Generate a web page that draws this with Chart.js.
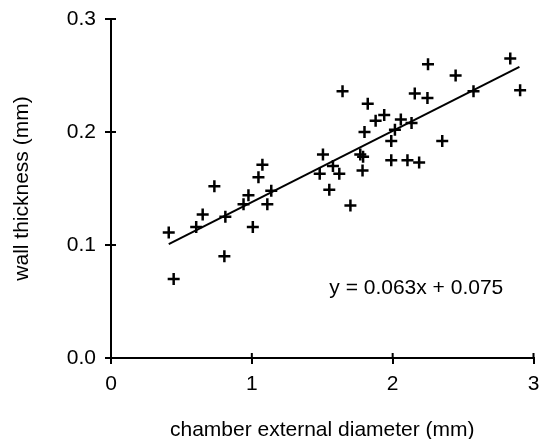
<!DOCTYPE html>
<html>
<head>
<meta charset="utf-8">
<script src="https://cdn.jsdelivr.net/npm/chart.js@4"></script>
<style>
  html, body { margin: 0; padding: 0; background: #fff; }
</style>
</head>
<body>
<canvas id="myChartScatter" width="542" height="439"></canvas>
<script>
// chamber external diameter (mm)
const diameter = [0.41, 0.445, 0.605, 0.651, 0.734, 0.812, 0.805, 0.941, 0.976, 1.007,
  1.047, 1.075, 1.11, 1.138, 1.482, 1.505, 1.55, 1.576, 1.621, 1.644,
  1.70, 1.77, 1.79, 1.786, 1.80, 1.823, 1.879, 1.94, 1.99, 1.99,
  2.016, 2.058, 2.105, 2.134, 2.157, 2.188, 2.247, 2.251, 2.352, 2.447,
  2.574, 2.835, 2.905];
// wall thickness (mm)
const thickness = [0.111, 0.070, 0.116, 0.127, 0.152, 0.125, 0.090, 0.136, 0.144, 0.116,
  0.160, 0.171, 0.136, 0.148, 0.163, 0.180, 0.149, 0.170, 0.163, 0.236,
  0.135, 0.180, 0.178, 0.166, 0.200, 0.225, 0.210, 0.215, 0.192, 0.175,
  0.202, 0.211, 0.175, 0.208, 0.234, 0.173, 0.230, 0.260, 0.192, 0.250,
  0.236, 0.265, 0.237];

// trend line from the equation printed on the chart
const slope = 0.063;
const intercept = 0.075;
const fitFrom = 0.41;
const fitTo = 2.9;

const xTicks = [0, 1, 2, 3];
const yTicks = [0.0, 0.1, 0.2, 0.3];

const points = diameter.map((d, i) => ({ x: d, y: thickness[i] }));
const fitLine = [fitFrom, fitTo].map(d => ({ x: d, y: slope * d + intercept }));
const equation = 'y = ' + slope + 'x + ' + intercept;

Chart.defaults.font.family = '"Liberation Sans", Arial, sans-serif';
Chart.defaults.font.size = 21;
Chart.defaults.color = '#000';

// ticks that cross the axes + the equation label
const extras = {
  id: 'extras',
  afterDraw(chart) {
    const { ctx, scales: { x, y } } = chart;
    ctx.save();
    ctx.strokeStyle = '#000';
    ctx.lineWidth = 2;
    ctx.beginPath();
    x.ticks.forEach(t => {
      const px = x.getPixelForValue(t.value);
      ctx.moveTo(px, y.bottom);
      ctx.lineTo(px, y.bottom - 5);
    });
    y.ticks.forEach(t => {
      const py = y.getPixelForValue(t.value);
      ctx.moveTo(x.left, py);
      ctx.lineTo(x.left + 5, py);
    });
    ctx.stroke();
    ctx.font = '21px "Liberation Sans", Arial, sans-serif';
    ctx.fillStyle = '#000';
    ctx.textAlign = 'left';
    ctx.textBaseline = 'middle';
    ctx.fillText(equation, x.getPixelForValue(1.55), y.getPixelForValue(0.062));
    ctx.restore();
  }
};

const ctx = document.getElementById('myChartScatter');
let graphScatter = new Chart(ctx, {
  type: 'scatter',
  plugins: [extras],
  data: {
    datasets: [{
      label: 'wall thickness',
      data: points,
      pointStyle: 'cross',
      pointRadius: 6,
      pointHoverRadius: 6,
      pointBorderWidth: 2.5,
      borderColor: '#000',
      backgroundColor: '#000'
    }, {
      label: 'fit',
      data: fitLine,
      showLine: true,
      pointRadius: 0,
      borderWidth: 2,
      borderColor: '#000'
    }]
  },
  options: {
    responsive: false,
    animation: false,
    layout: { padding: { left: 0, right: 2, top: 19, bottom: 0 } },
    plugins: { legend: { display: false }, tooltip: { enabled: false } },
    scales: {
      x: {
        type: 'linear',
        min: xTicks[0],
        max: xTicks[xTicks.length - 1],
        afterBuildTicks: s => { s.ticks = xTicks.map(v => ({ value: v })); },
        afterFit: s => { s.height = 81; s.paddingLeft = 0; s.paddingRight = 2; },
        ticks: { padding: 8, callback: v => String(v) },
        grid: { display: true, drawOnChartArea: false, drawTicks: true, tickLength: 6, color: '#000', lineWidth: 2 },
        border: { display: true, color: '#000', width: 2 },
        title: {
          display: true,
          text: 'chamber external diameter (mm)',
          font: { size: 21, lineHeight: 1 },
          padding: { top: 0, bottom: -2 }
        }
      },
      y: {
        type: 'linear',
        min: yTicks[0],
        max: yTicks[yTicks.length - 1],
        afterBuildTicks: s => { s.ticks = yTicks.map(v => ({ value: v })); },
        afterFit: s => { s.width = 111; s.paddingTop = 0; s.paddingBottom = 0; },
        ticks: { padding: 9, callback: v => v.toFixed(1) },
        grid: { display: true, drawOnChartArea: false, drawTicks: true, tickLength: 6, color: '#000', lineWidth: 2 },
        border: { display: true, color: '#000', width: 2 },
        title: {
          display: true,
          text: 'wall thickness (mm)',
          font: { size: 21, lineHeight: 1.2 },
          padding: { top: 10, bottom: 0 }
        }
      }
    }
  }
});
</script>
</body>
</html>
